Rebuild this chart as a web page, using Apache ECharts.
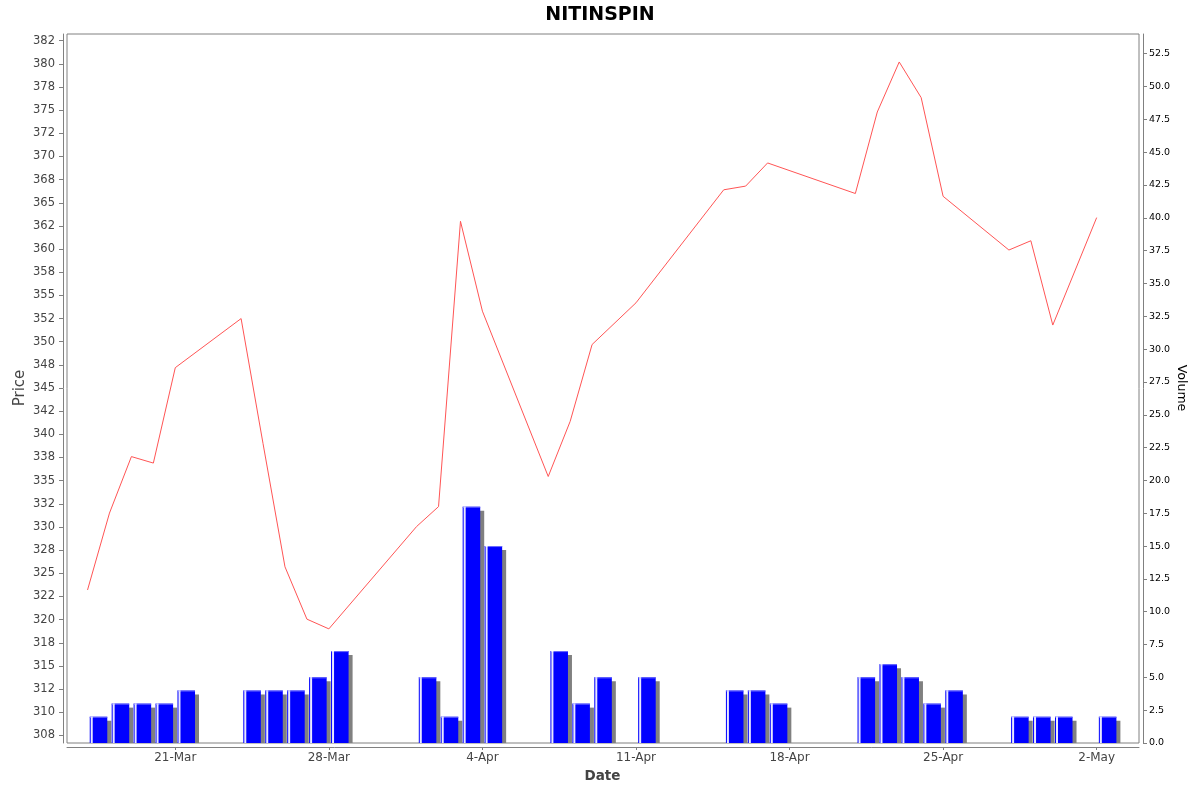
<!DOCTYPE html>
<html><head><meta charset="utf-8">
<script src="https://cdn.jsdelivr.net/npm/echarts@6/dist/echarts.min.js"></script>
<style>html,body{margin:0;padding:0;background:#fff}#c{width:1200px;height:792px}</style>
</head><body><div id="c"></div>
<script>
const dates = ['2025-03-17','2025-03-18','2025-03-19','2025-03-20','2025-03-21',
  '2025-03-24','2025-03-25','2025-03-26','2025-03-27','2025-03-28',
  '2025-04-01','2025-04-02','2025-04-03','2025-04-04',
  '2025-04-07','2025-04-08','2025-04-09','2025-04-11',
  '2025-04-15','2025-04-16','2025-04-17',
  '2025-04-21','2025-04-22','2025-04-23','2025-04-24','2025-04-25',
  '2025-04-28','2025-04-29','2025-04-30','2025-05-02'];
const prices = [323.2,331.5,337.6,336.9,347.2,
  352.5,339.0,325.7,320.05,319.0,
  330.05,332.2,363.0,353.3,
  335.45,341.4,349.7,354.2,
  366.4,366.8,369.3,
  366.0,374.8,380.2,376.35,365.7,
  359.9,360.9,351.8,363.4];
const volumes = [2,3,3,3,4,
  4,4,4,5,7,
  5,2,18,15,
  7,3,5,5,
  4,4,3,
  5,6,5,3,4,
  2,2,2,2];
const dateTicks = ['2025-03-21','2025-03-28','2025-04-04','2025-04-11','2025-04-18','2025-04-25','2025-05-02'];
const dateTickLabels = ['21-Mar','28-Mar','4-Apr','11-Apr','18-Apr','25-Apr','2-May'];
const priceTicks = [307.5,310,312.5,315,317.5,320,322.5,325,327.5,330,332.5,335,337.5,340,342.5,345,
  347.5,350,352.5,355,357.5,360,362.5,365,367.5,370,372.5,375,377.5,380,382.5];
const priceTickLabels = ['308','310','312','315','318','320','322','325','328','330','332','335','338','340','342','345',
  '348','350','352','355','358','360','362','365','368','370','372','375','378','380','382'];
const volumeTicks = [0,2.5,5,7.5,10,12.5,15,17.5,20,22.5,25,27.5,30,32.5,35,37.5,40,42.5,45,47.5,50,52.5];
const volumeTickLabels = ['0.0','2.5','5.0','7.5','10.0','12.5','15.0','17.5','20.0','22.5','25.0','27.5','30.0',
  '32.5','35.0','37.5','40.0','42.5','45.0','47.5','50.0','52.5'];

// day numbers (UTC days since epoch) used as the numeric x scale
function dayNum(s){const p=s.split('-').map(Number);return Date.UTC(p[0],p[1]-1,p[2])/86400000;}
const dateX = dates.map(dayNum);
const dateTickX = dateTicks.map(dayNum);

function pick(list,labels,v){const i=list.findIndex(t=>Math.abs(t-v)<1e-6);return i>=0?labels[i]:'';}

const chart = echarts.init(document.getElementById('c'), null, {renderer:'canvas'});
const font = 'DejaVu Sans';
chart.setOption({
  animation:false,
  backgroundColor:'#ffffff',
  title:{text:'NITINSPIN',left:'center',top:1,textStyle:{fontFamily:font,fontSize:19,fontWeight:'bold',color:'#000'}},
  graphic:[
    {type:'text',x:20,y:388,rotation:Math.PI/2,style:{text:'Price',align:'center',verticalAlign:'middle',
      font:'15px "DejaVu Sans"',fill:'#444'}},
    {type:'text',x:1181,y:388,rotation:-Math.PI/2,style:{text:'Volume',align:'center',verticalAlign:'middle',
      font:'12.5px "DejaVu Sans"',fill:'#000'}},
    {type:'text',x:602.5,y:776,style:{text:'Date',align:'center',verticalAlign:'middle',
      font:'bold 13.5px "DejaVu Sans"',fill:'#444'}}
  ],
  grid:{left:67,top:34,width:1072,height:709,show:true,borderColor:'#808080',borderWidth:1,backgroundColor:'#fff'},
  xAxis:{type:'value',min:dayNum('2025-03-16')+0.064,max:dayNum('2025-05-02')+1.93,offset:4,
    axisLine:{show:true,onZero:false,lineStyle:{color:'#808080',width:1}},
    axisTick:{show:true,length:3,inside:false,lineStyle:{color:'#808080'},customValues:dateTickX},
    axisLabel:{show:true,margin:5,fontFamily:font,fontSize:12,color:'#444',customValues:dateTickX,
      formatter:function(v){return pick(dateTickX,dateTickLabels,v);}},
    splitLine:{show:false}},
  yAxis:[
    {type:'value',position:'left',min:306.68,max:383.22,offset:4,
     axisLine:{show:true,onZero:false,lineStyle:{color:'#808080',width:1}},
     axisTick:{show:true,length:4,inside:false,lineStyle:{color:'#808080'},customValues:priceTicks},
     axisLabel:{show:true,margin:8,fontFamily:font,fontSize:11.5,color:'#444',customValues:priceTicks,
       formatter:function(v){return pick(priceTicks,priceTickLabels,v);}},
     splitLine:{show:false}},
    {type:'value',position:'right',min:0,max:54,offset:4,
     axisLine:{show:true,onZero:false,lineStyle:{color:'#808080',width:1}},
     axisTick:{show:true,length:4,inside:false,lineStyle:{color:'#808080'},customValues:volumeTicks},
     axisLabel:{show:true,margin:6,fontFamily:font,fontSize:9.5,color:'#000',customValues:volumeTicks,
       formatter:function(v){return pick(volumeTicks,volumeTickLabels,v);}},
     splitLine:{show:false}}
  ],
  series:[
    {type:'custom',yAxisIndex:1,
     data:dateX.map((t,i)=>[t,volumes[i]]),
     renderItem:function(params,api){
       const t=api.value(0), v=api.value(1);
       const p0=api.coord([t+0.1,0]);
       const p1=api.coord([t+0.9,v]);
       const x0=p0[0], x1=p1[0], yb=p0[1], yt=p1[1];
       const w=x1-x0, h=yb-yt;
       return {type:'group',children:[
         {type:'rect',shape:{x:x0+4,y:yt+4,width:w,height:h-4},style:{fill:'#808080'}},
         {type:'rect',shape:{x:x0,y:yt,width:w,height:h},style:{fill:'#0000ff'}},
         {type:'rect',shape:{x:x0+1,y:yt,width:2,height:h},style:{fill:'#e8e8ff'}},
         {type:'rect',shape:{x:x0,y:yt,width:w,height:1},style:{fill:'#7070ff'}},
         {type:'rect',shape:{x:x0+1,y:yt,width:2,height:1},style:{fill:'#ffffff'}}
       ]};
     },z:2},
    {type:'line',yAxisIndex:0,data:dateX.map((t,i)=>[t,prices[i]]),
     symbol:'none',lineStyle:{color:'#ff5555',width:1},z:3}
  ]
});
</script>
</body></html>
